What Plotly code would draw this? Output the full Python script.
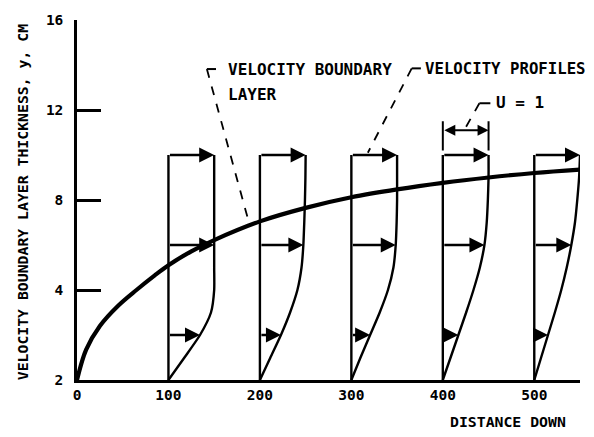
import plotly.graph_objects as go

# ---- data ----
BL_X = [0, 10, 25, 45, 65, 85, 100, 125, 150, 200, 250, 300, 350, 400, 450, 500, 550]
BL_Y = [0, 1.35, 2.4, 3.3, 4.0, 4.65, 5.1, 5.72, 6.22, 7.05, 7.65, 8.12, 8.47, 8.76, 9.0, 9.2, 9.35]

STATIONS = [100, 200, 300, 400, 500]
PROFILE_Y = [0, 1, 2, 3, 4, 5, 6, 7, 8, 9, 10]
U_100 = [0, 0.35, 0.69, 0.93, 1.0, 1.0, 1.0, 1.0, 1.0, 1.0, 1.0]
U_200 = [0, 0.23, 0.46, 0.66, 0.82, 0.91, 0.95, 0.97, 0.985, 0.995, 1.0]
U_300 = [0, 0.20, 0.41, 0.62, 0.80, 0.92, 0.97, 0.99, 1.0, 1.0, 1.0]
U_400 = [0, 0.17, 0.34, 0.51, 0.67, 0.81, 0.91, 0.96, 0.985, 1.0, 1.0]
U_500 = [0, 0.15, 0.30, 0.45, 0.59, 0.71, 0.81, 0.89, 0.94, 0.98, 1.0]
PROFILES = [U_100, U_200, U_300, U_400, U_500]
U_SCALE = 50          # distance on the x axis that corresponds to U = 1
ARROW_Y = [2, 6, 10]

X_TICKS = [0, 100, 200, 300, 400, 500]
Y_TICKS = [0, 4, 8, 12, 16]
Y_TICKTEXT = ["2", "4", "8", "12", "16"]

FONT = "DejaVu Sans Mono"

fig = go.Figure()

# boundary-layer curve
fig.add_trace(go.Scatter(x=BL_X, y=BL_Y, mode="lines",
                         line=dict(color="black", width=4.2, shape="spline", smoothing=1.0),
                         hoverinfo="skip", showlegend=False))

annotations = []
for s, u in zip(STATIONS, PROFILES):
    # left wall of profile
    fig.add_trace(go.Scatter(x=[s, s], y=[PROFILE_Y[0], PROFILE_Y[-1]], mode="lines",
                             line=dict(color="black", width=2.4),
                             hoverinfo="skip", showlegend=False))
    # velocity profile curve
    fig.add_trace(go.Scatter(x=[s + U_SCALE * v for v in u], y=PROFILE_Y, mode="lines",
                             line=dict(color="black", width=2.4, shape="spline", smoothing=0.6),
                             hoverinfo="skip", showlegend=False))
    for yk in ARROW_Y:
        uk = u[PROFILE_Y.index(yk)]
        annotations.append(dict(x=s + U_SCALE * uk, y=yk, ax=s, ay=yk,
                                xref="x", yref="y", axref="x", ayref="y",
                                text="", showarrow=True, arrowhead=2, arrowsize=1.25,
                                arrowwidth=2.4, arrowcolor="black", standoff=0))

# U = 1 dimension arrow
annotations.append(dict(x=STATIONS[3] + U_SCALE, y=11.1, ax=STATIONS[3], ay=11.1,
                        xref="x", yref="y", axref="x", ayref="y", text="", showarrow=True,
                        arrowhead=2, startarrowhead=2, arrowside="end+start", arrowsize=1.1,
                        startarrowsize=1.1, arrowwidth=2, arrowcolor="black", standoff=0,
                        startstandoff=0))

shapes = []
for xv in [STATIONS[3], STATIONS[3] + U_SCALE]:
    shapes.append(dict(type="line", xref="x", yref="y", x0=xv, x1=xv, y0=10.2, y1=11.5,
                       line=dict(color="black", width=2)))

# leader lines (solid hooks + dashed leaders)
def leader(corner, hook_end, target):
    shapes.append(dict(type="line", xref="x", yref="y", x0=corner[0], y0=corner[1],
                       x1=hook_end[0], y1=hook_end[1], line=dict(color="black", width=2)))
    shapes.append(dict(type="line", xref="x", yref="y", x0=corner[0], y0=corner[1],
                       x1=target[0], y1=target[1], line=dict(color="black", width=1.8, dash="dash")))

leader((142, 13.82), (152, 13.82), (188, 7.0))
leader((366, 13.85), (376, 13.85), (318, 10.1))
leader((440, 12.3), (452, 12.3), (424, 11.15))

txt_font = dict(family=FONT, size=16, color="black", weight="bold")
ax_font = dict(family=FONT, size=14.8, color="black", weight="bold")
annotations += [
    dict(x=163, y=13.82, xref="x", yref="y", text="VELOCITY BOUNDARY", showarrow=False,
         xanchor="left", yanchor="middle", font=txt_font),
    dict(x=163, y=12.69, xref="x", yref="y", text="LAYER", showarrow=False,
         xanchor="left", yanchor="middle", font=txt_font),
    dict(x=378, y=13.85, xref="x", yref="y", text="VELOCITY PROFILES", showarrow=False,
         xanchor="left", yanchor="middle",
         font=dict(family=FONT, size=15.7, color="black", weight="bold")),
    dict(x=456, y=12.35, xref="x", yref="y", text="U = 1", showarrow=False,
         xanchor="left", yanchor="middle", font=txt_font),
    dict(x=1.0, y=0, xref="paper", yref="paper", text="DISTANCE DOWN", showarrow=False,
         xanchor="right", yanchor="middle", xshift=-12, yshift=-41, font=ax_font),
    dict(x=0, y=7.9, xref="paper", yref="y", text="VELOCITY BOUNDARY LAYER THICKNESS, y, CM",
         showarrow=False, textangle=-90, xanchor="center", yanchor="middle", xshift=-55,
         font=ax_font),
]

tick_font = dict(family=FONT, size=14.5, color="black", weight="bold")
fig.update_layout(
    width=586, height=429,
    margin=dict(l=69, r=14, t=12, b=57, autoexpand=False),
    paper_bgcolor="white", plot_bgcolor="white",
    showlegend=False,
    annotations=annotations, shapes=shapes,
    xaxis=dict(range=[0, 550], showgrid=False, zeroline=False, showline=True,
               linecolor="black", linewidth=2.5, ticks="", tickvals=X_TICKS,
               tickfont=tick_font, fixedrange=True, automargin=False),
    yaxis=dict(range=[0, 16], showgrid=False, zeroline=False, showline=True,
               linecolor="black", linewidth=2.5, ticks="inside", ticklen=24, tickwidth=2.5,
               tickcolor="black", tickvals=Y_TICKS, ticktext=Y_TICKTEXT,
               tickfont=tick_font, ticklabelstandoff=8, fixedrange=True, automargin=False),
)

fig.write_html("out.html")
